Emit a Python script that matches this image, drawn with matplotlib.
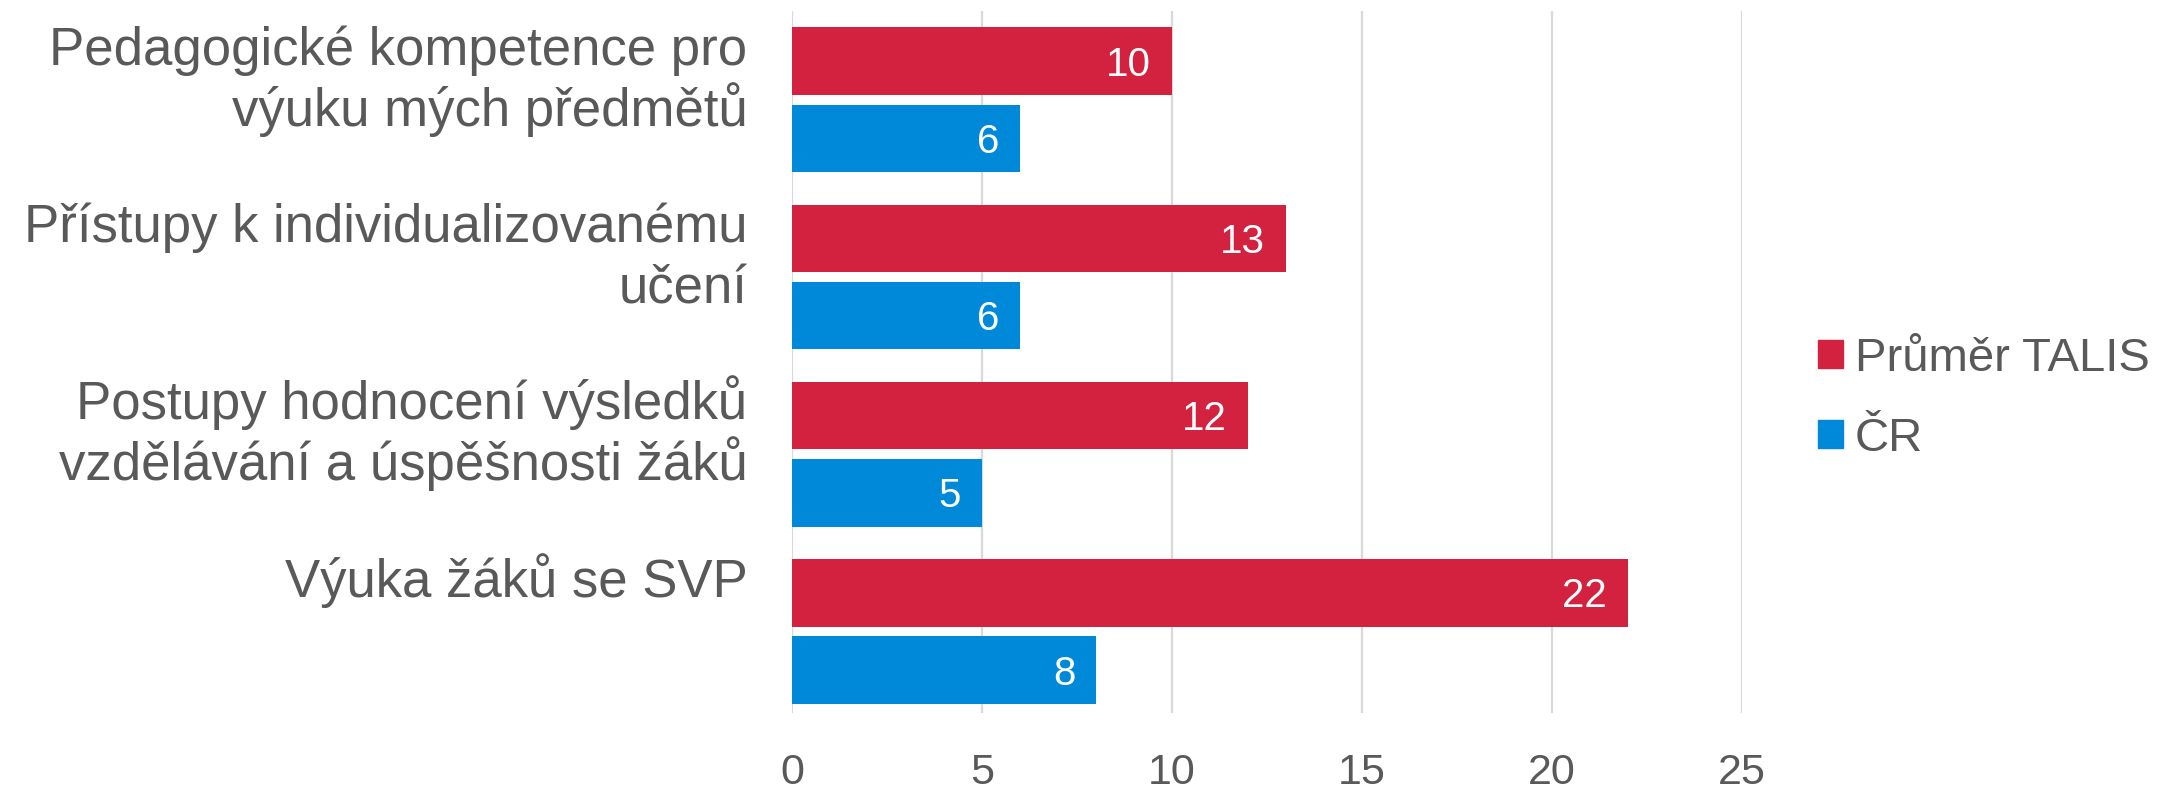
import matplotlib.pyplot as plt
import numpy as np
from matplotlib.patches import Patch

# Data
categories = ["Pedagogické kompetence pro\nvýuku mých předmětů",
              "Přístupy k individualizovanému\nučení",
              "Postupy hodnocení výsledků\nvzdělávání a úspěšnosti žáků",
              "Výuka žáků se SVP"]
talis = [10, 13, 12, 22]
cr = [6, 6, 5, 8]
series_names = ["Průměr TALIS", "ČR"]
xticks = [0, 5, 10, 15, 20, 25]

red = "#D32240"
blue = "#0088D9"
grey = "#595959"

plt.rcParams['font.family'] = ['Liberation Sans', 'DejaVu Sans']

fig = plt.figure(figsize=(21.57, 7.91), dpi=100)
ax = fig.add_axes([0.3672, 0.0986, 0.8076 - 0.3672, 0.986 - 0.0986])

y = np.arange(len(categories))
h = 0.381
off = 0.2176
ax.barh(y - off, talis, height=h, color=red, zorder=3)
ax.barh(y + off, cr, height=h, color=blue, zorder=3)

# hodnoty uvnitř konce sloupců
for yi, v in zip(y - off, talis):
    ax.text(v - 0.55, yi + 0.02, str(v), ha='right', va='center', color='white', fontsize=29, zorder=4)
for yi, v in zip(y + off, cr):
    ax.text(v - 0.55, yi + 0.02, str(v), ha='right', va='center', color='white', fontsize=29, zorder=4)

ax.set_xlim(0, 25)
ax.set_ylim(3.46, -0.50)
ax.set_xticks(xticks)
ax.set_xticklabels([str(t) for t in xticks])
ax.tick_params(axis='x', length=0, pad=29, labelsize=31, labelcolor=grey)
ax.set_yticks([])
ax.grid(axis='x', color='#D9D9D9', linewidth=1.6, zorder=0)
for s in ax.spines.values():
    s.set_visible(False)

# popisky kategorií, každý řádek zvlášť (účaří od horního okraje skupiny)
trans = ax.get_yaxis_transform()
for yi, lab in zip(y, categories):
    for k, line in enumerate(lab.split("\n")):
        ax.text(-0.047, yi - 0.197 + k * 0.344, line, transform=trans, ha='right',
                va='baseline', fontsize=38, color=grey)

handles = [Patch(color=red), Patch(color=blue)]
fig.legend(handles, series_names, loc='center left', bbox_to_anchor=(0.8429, 0.4956),
           frameon=False, fontsize=34, labelcolor=grey, handlelength=0.53, handleheight=0.53,
           handletextpad=0.25, labelspacing=0.76, borderpad=0, borderaxespad=0)

fig.savefig("out.png", dpi=100)
